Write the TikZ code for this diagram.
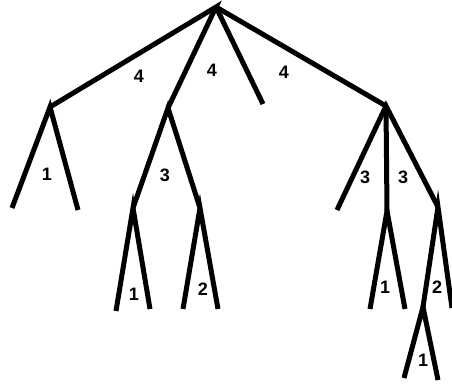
\documentclass[tikz,border=0pt]{standalone}
\usepackage{fontspec}
\setmainfont{Liberation Sans}
\begin{document}
\begin{tikzpicture}[x=1pt,y=-1pt,
  edge/.style={line width=5pt},
  lbl/.style={font=\bfseries\fontsize{18}{18}\selectfont,inner sep=0pt}]
\useasboundingbox (0,0) rectangle (452,383);
% nodes
\coordinate (R) at (216,7);
\coordinate (A) at (50,107);
\coordinate (B) at (168,108);
\coordinate (C) at (263,104);
\coordinate (D) at (386,106);
\coordinate (A1) at (12,208);
\coordinate (A2) at (78,210);
\coordinate (B1) at (133,208);
\coordinate (B2) at (200,208);
\coordinate (B11) at (116,311);
\coordinate (B12) at (150,309);
\coordinate (B21) at (183,309);
\coordinate (B22) at (218,309);
\coordinate (D1) at (337,210);
\coordinate (D2) at (387,211);
\coordinate (D3) at (438,207);
\coordinate (D21) at (370,309);
\coordinate (D22) at (405,309);
\coordinate (D4) at (423,307);
\coordinate (D32) at (452,308);
\coordinate (D41) at (404,378);
\coordinate (D42) at (438,380);
% edges
\draw[edge] (A) -- (R) -- (B);
\draw[edge] (R) -- (C);
\draw[edge] (R) -- (D);
\draw[edge] (A1) -- (A) -- (A2);
\draw[edge] (B1) -- (B) -- (B2);
\draw[edge] (B11) -- (B1) -- (B12);
\draw[edge] (B21) -- (B2) -- (B22);
\draw[edge] (D1) -- (D) -- (D3);
\draw[edge] (D) -- (D2);
\draw[edge] (D21) -- (D2) -- (D22);
\draw[edge] (D4) -- (D3) -- (D32);
\draw[edge] (D41) -- (D4) -- (D42);
% labels
\node[lbl] (l1) at (139,76) {4};
\node[lbl] (l2) at (212,70) {4};
\node[lbl] (l3) at (284,72) {4};
\node[lbl] (l4) at (47,174) {1};
\node[lbl] (l5) at (165,175) {3};
\node[lbl] (l6) at (365,177) {3};
\node[lbl] (l7) at (403,177) {3};
\node[lbl] (l8) at (134,294) {1};
\node[lbl] (l9) at (203,289) {2};
\node[lbl] (l10) at (385,287) {1};
\node[lbl] (l11) at (437,287) {2};
\node[lbl] (l12) at (423,360) {1};
\end{tikzpicture}
\end{document}
